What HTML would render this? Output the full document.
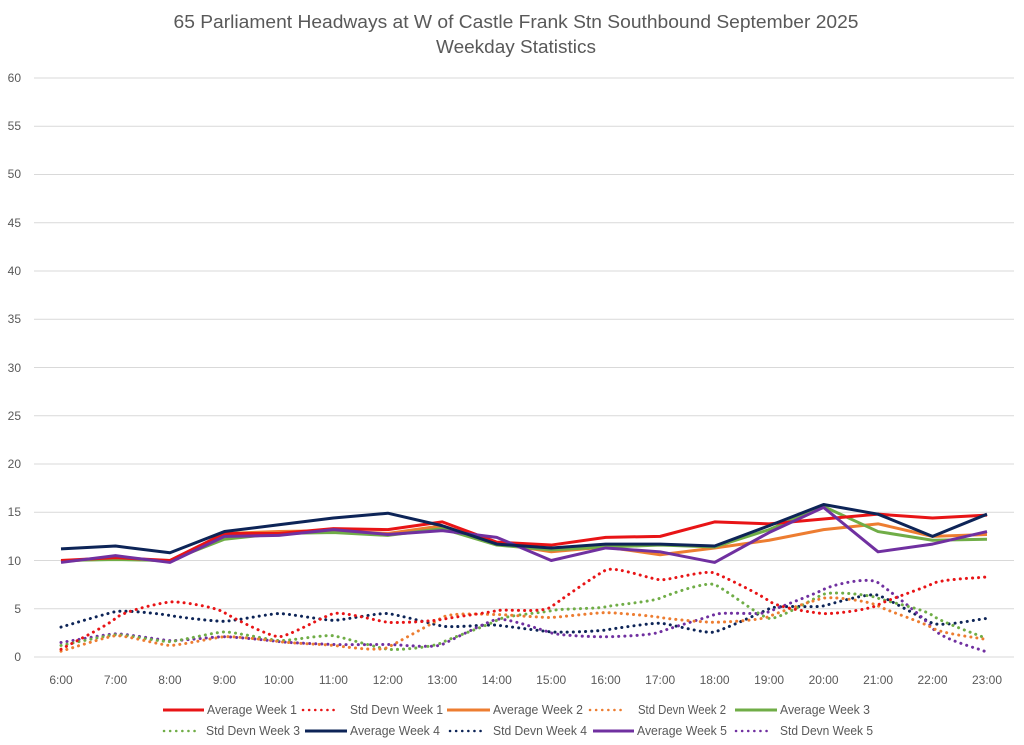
<!DOCTYPE html>
<html><head><meta charset="utf-8"><style>
body{margin:0;background:#fff;}
svg{display:block;font-family:"Liberation Sans",sans-serif;}
</style></head><body>
<svg id="c" width="1024" height="745" viewBox="0 0 1024 745">
<rect width="1024" height="745" fill="#fff"/>
<text x="516" y="28" font-size="18.5" fill="#595959" text-anchor="middle" textLength="685" lengthAdjust="spacingAndGlyphs">65 Parliament Headways at W of Castle Frank Stn Southbound September 2025</text>
<text x="516" y="53" font-size="18.5" fill="#595959" text-anchor="middle" textLength="160" lengthAdjust="spacingAndGlyphs">Weekday Statistics</text>
<g id="grid" stroke="#d9d9d9" stroke-width="1"></g>
<g font-size="12" fill="#595959" text-anchor="end">
<text x="21" y="661">0</text><text x="21" y="613">5</text><text x="21" y="565">10</text><text x="21" y="516">15</text><text x="21" y="468">20</text><text x="21" y="420">25</text><text x="21" y="372">30</text><text x="21" y="323">35</text><text x="21" y="275">40</text><text x="21" y="227">45</text><text x="21" y="178">50</text><text x="21" y="130">55</text><text x="21" y="82">60</text>
</g>
<g font-size="12" fill="#595959" text-anchor="middle" id="xl">
<text x="61" y="684">6:00</text><text x="115.5" y="684">7:00</text><text x="169.9" y="684">8:00</text><text x="224.4" y="684">9:00</text><text x="278.9" y="684">10:00</text><text x="333.4" y="684">11:00</text><text x="387.8" y="684">12:00</text><text x="442.3" y="684">13:00</text><text x="496.8" y="684">14:00</text><text x="551.2" y="684">15:00</text><text x="605.7" y="684">16:00</text><text x="660.2" y="684">17:00</text><text x="714.6" y="684">18:00</text><text x="769.1" y="684">19:00</text><text x="823.6" y="684">20:00</text><text x="878.1" y="684">21:00</text><text x="932.5" y="684">22:00</text><text x="987" y="684">23:00</text>
</g>
<g id="series" fill="none" stroke-linejoin="round"></g>
<g font-size="12.5" fill="#595959">
<line x1="163" y1="710" x2="204" y2="710" stroke="#e81416" stroke-width="3"/><text x="207" y="714" textLength="90" lengthAdjust="spacingAndGlyphs">Average Week 1</text>
<line x1="303" y1="710" x2="334" y2="710" stroke="#e81416" stroke-width="2.5" stroke-dasharray="0.1 6" stroke-linecap="round"/><text x="350" y="714" textLength="93" lengthAdjust="spacingAndGlyphs">Std Devn Week 1</text>
<line x1="447" y1="710" x2="490" y2="710" stroke="#ed7d31" stroke-width="3"/><text x="493" y="714" textLength="90" lengthAdjust="spacingAndGlyphs">Average Week 2</text>
<line x1="590" y1="710" x2="621" y2="710" stroke="#ed7d31" stroke-width="2.5" stroke-dasharray="0.1 6" stroke-linecap="round"/><text x="638" y="714" textLength="88" lengthAdjust="spacingAndGlyphs">Std Devn Week 2</text>
<line x1="735" y1="710" x2="777" y2="710" stroke="#70ad47" stroke-width="3"/><text x="780" y="714" textLength="90" lengthAdjust="spacingAndGlyphs">Average Week 3</text>
<line x1="164" y1="731" x2="195" y2="731" stroke="#70ad47" stroke-width="2.5" stroke-dasharray="0.1 6" stroke-linecap="round"/><text x="206" y="735" textLength="94" lengthAdjust="spacingAndGlyphs">Std Devn Week 3</text>
<line x1="305" y1="731" x2="347" y2="731" stroke="#0d2457" stroke-width="3"/><text x="350" y="735" textLength="90" lengthAdjust="spacingAndGlyphs">Average Week 4</text>
<line x1="450" y1="731" x2="481" y2="731" stroke="#0d2457" stroke-width="2.5" stroke-dasharray="0.1 6" stroke-linecap="round"/><text x="493" y="735" textLength="94" lengthAdjust="spacingAndGlyphs">Std Devn Week 4</text>
<line x1="593" y1="731" x2="634" y2="731" stroke="#7030a0" stroke-width="3"/><text x="637" y="735" textLength="90" lengthAdjust="spacingAndGlyphs">Average Week 5</text>
<line x1="736" y1="731" x2="767" y2="731" stroke="#7030a0" stroke-width="2.5" stroke-dasharray="0.1 6" stroke-linecap="round"/><text x="780" y="735" textLength="93" lengthAdjust="spacingAndGlyphs">Std Devn Week 5</text>
</g>
</svg>
<script>
var NS="http://www.w3.org/2000/svg";
var g=document.getElementById('grid');
for(var i=0;i<=12;i++){var y=657-i*48.25;var l=document.createElementNS(NS,'line');l.setAttribute('x1',34);l.setAttribute('x2',1014);l.setAttribute('y1',y);l.setAttribute('y2',y);g.appendChild(l);}
function X(i){return 61+i*54.47;}function Y(v){return 657-v*9.65;}
var S=[
["#0d2457",0,[3.1,4.7,4.3,3.7,4.5,3.8,4.5,3.2,3.3,2.6,2.8,3.5,2.6,5,5.3,6.4,3.5,4]],
["#7030a0",0,[1.5,2.4,1.7,2.1,1.6,1.3,1.3,1.3,3.9,2.5,2.1,2.6,4.4,4.7,7,7.7,3,0.5]],
["#70ad47",0,[1.2,2.3,1.6,2.6,1.7,2.2,0.8,1.5,3.8,4.8,5.2,6.1,7.5,4,6.5,6.1,4.3,1.9]],
["#ed7d31",0,[0.6,2.2,1.2,2.1,1.6,1.2,1,4.1,4.4,4.1,4.6,4.1,3.6,4.2,6.1,5.3,3,1.8]],
["#e81416",0,[0.8,4,5.7,4.6,2.1,4.5,3.6,3.9,4.8,5.2,9,8,8.7,5.8,4.5,5.4,7.6,8.3]],
["#ed7d31",1,[9.9,10.3,9.9,12.8,13,13.1,12.8,13.6,11.8,10.9,11.4,10.6,11.3,12.1,13.2,13.8,12.5,12.7]],
["#70ad47",1,[10,10.1,10,12.2,12.8,12.9,12.6,13.3,11.6,11.1,11.4,11.6,11.4,13.2,15.6,13,12.1,12.2]],
["#e81416",1,[10,10.3,10,12.8,12.8,13.3,13.2,14,11.9,11.6,12.4,12.5,14,13.8,14.3,14.8,14.4,14.7]],
["#7030a0",1,[9.8,10.5,9.8,12.5,12.6,13.2,12.7,13.1,12.4,10,11.3,10.9,9.8,12.9,15.5,10.9,11.7,13]],
["#0d2457",1,[11.2,11.5,10.8,13,13.7,14.4,14.9,13.6,11.7,11.3,11.7,11.7,11.5,13.6,15.8,14.8,12.5,14.8]]
];
var sg=document.getElementById('series');
S.forEach(function(s){
 var d=s[2],p;
 if(s[1]){p="M"+d.map(function(v,i){return X(i)+","+Y(v)}).join(" L");}
 else{p="M"+X(0)+","+Y(d[0]);
  for(var i=0;i<d.length-1;i++){var a=d[Math.max(i-1,0)],b=d[i],c=d[i+1],e=d[Math.min(i+2,d.length-1)];
   var x1=X(i),x2=X(i+1),h=54.47/6;
   p+=" C"+(x1+h)+","+Y(b+(c-a)/6)+" "+(x2-h)+","+Y(c-(e-b)/6)+" "+x2+","+Y(c);}
 }
 var e=document.createElementNS(NS,'path');e.setAttribute('d',p);e.setAttribute('stroke',s[0]);e.setAttribute('stroke-width',3);
 if(!s[1]){e.setAttribute('stroke-dasharray','0.1 6');e.setAttribute('stroke-linecap','round');}
 sg.appendChild(e);
});
</script>
</body></html>
